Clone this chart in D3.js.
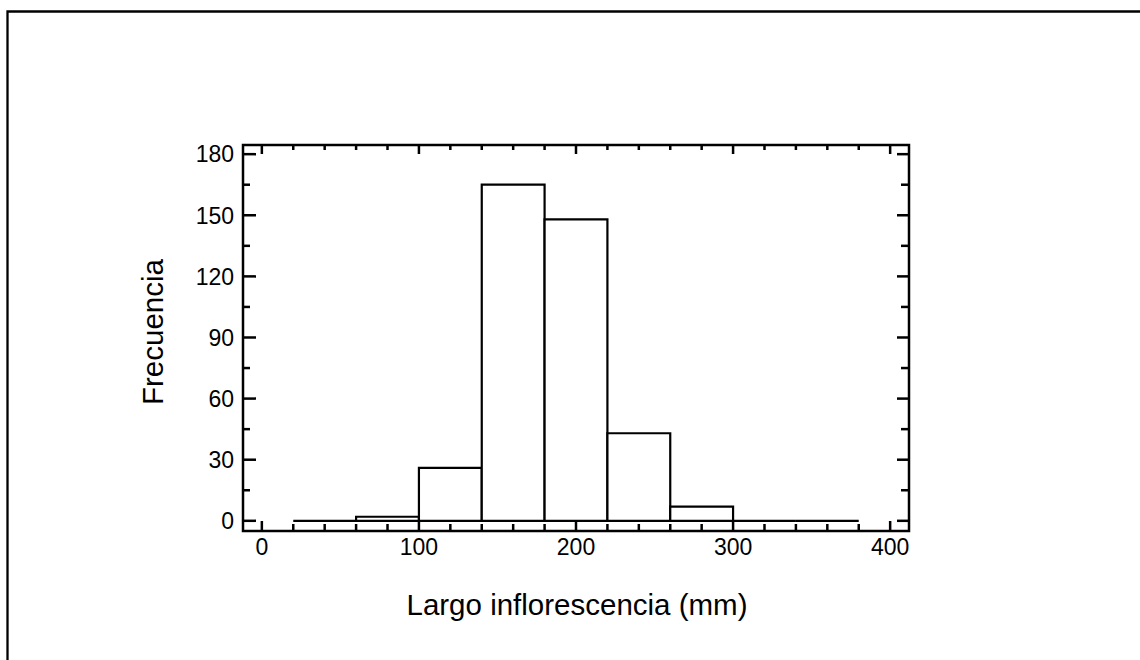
<!DOCTYPE html>
<html>
<head>
<meta charset="utf-8">
<script src="https://cdn.jsdelivr.net/npm/d3@7"></script>
<style>
	body { margin: 0; background: #fff; }
	svg { display: block; font-family: "Liberation Sans", Arial, sans-serif; }
</style>
</head>
<body>
<div id="chart"></div>
<script>
/**
 * Histogram data: bin starts (mm), bin width and frequencies
 */
var binStarts = [20, 60, 100, 140, 180, 220, 260, 300, 340];
var binWidth = 40;
var counts = [0, 2, 26, 165, 148, 43, 7, 0, 0];

var xMajorTicks = [0, 100, 200, 300, 400];
var yMajorTicks = [0, 30, 60, 90, 120, 150, 180];

var xLabel = "Largo inflorescencia (mm)";
var yLabel = "Frecuencia";

function init() {
	var width = 1140, height = 660;
	var plot = {left: 243, right: 909, top: 145, bottom: 531};

	var svg = d3.select("#chart").append("svg")
		.attr("width", width)
		.attr("height", height);

	// outer frame (only top and left edges are visible)
	svg.append("path")
		.attr("d", "M7.5," + (height + 5) + "V11.5H" + (width + 5))
		.attr("fill", "none")
		.attr("stroke", "#000")
		.attr("stroke-width", 2.3);

	var x = d3.scaleLinear().domain([-12, 412]).range([plot.left, plot.right]);
	var y = d3.scaleLinear().domain([-5, 184.5]).range([plot.bottom, plot.top]);

	var xMinor = d3.range(0, 401, 20).filter(function (v) { return v % 100 !== 0; });
	var yMinor = d3.range(0, 181, 15).filter(function (v) { return v % 30 !== 0; });

	// bars (drawn as closed paths so empty bins still show as a flat line)
	var data = binStarts.map(function (s, i) {
		return {x0: s, x1: s + binWidth, n: counts[i]};
	});

	svg.append("g").selectAll("path")
		.data(data).enter()
		.append("path")
		.attr("d", function (d) {
			return "M" + x(d.x0) + "," + y(0) +
				"V" + y(d.n) + "H" + x(d.x1) + "V" + y(0) + "Z";
		})
		.attr("fill", "#fff")
		.attr("stroke", "#000")
		.attr("stroke-width", 2.2);

	// axes: ticks pointing inward on all four sides
	var axes = svg.append("g").attr("stroke", "#000").attr("stroke-width", 2.5);

	function addTicks(values, len, side) {
		values.forEach(function (v) {
			var l = axes.append("line");
			if (side === "bottom") {
				l.attr("x1", x(v)).attr("x2", x(v)).attr("y1", plot.bottom).attr("y2", plot.bottom - len);
			} else if (side === "top") {
				l.attr("x1", x(v)).attr("x2", x(v)).attr("y1", plot.top).attr("y2", plot.top + len);
			} else if (side === "left") {
				l.attr("y1", y(v)).attr("y2", y(v)).attr("x1", plot.left).attr("x2", plot.left + len);
			} else {
				l.attr("y1", y(v)).attr("y2", y(v)).attr("x1", plot.right).attr("x2", plot.right - len);
			}
		});
	}

	addTicks(xMajorTicks, 10, "bottom");
	addTicks(xMinor, 7, "bottom");
	addTicks(xMajorTicks, 9, "top");
	addTicks(xMinor, 5, "top");
	addTicks(yMajorTicks, 13, "left");
	addTicks(yMinor, 7, "left");
	addTicks(yMajorTicks, 12, "right");
	addTicks(yMinor, 8, "right");

	axes.append("rect")
		.attr("x", plot.left)
		.attr("y", plot.top)
		.attr("width", plot.right - plot.left)
		.attr("height", plot.bottom - plot.top)
		.attr("fill", "none");

	// tick labels
	svg.append("g").selectAll("text")
		.data(xMajorTicks).enter()
		.append("text")
		.attr("x", function (d) { return x(d); })
		.attr("y", 555)
		.attr("text-anchor", "middle")
		.attr("font-size", 23)
		.text(function (d) { return d; });

	svg.append("g").selectAll("text")
		.data(yMajorTicks).enter()
		.append("text")
		.attr("x", 234)
		.attr("y", function (d) { return y(d); })
		.attr("dy", "0.36em")
		.attr("text-anchor", "end")
		.attr("font-size", 23)
		.text(function (d) { return d; });

	// axis titles
	svg.append("text")
		.attr("x", 577)
		.attr("y", 615)
		.attr("text-anchor", "middle")
		.attr("font-size", 29.5)
		.text(xLabel);

	svg.append("text")
		.attr("transform", "translate(163,332) rotate(-90)")
		.attr("text-anchor", "middle")
		.attr("font-size", 29.5)
		.text(yLabel);
}

init();
</script>
</body>
</html>
